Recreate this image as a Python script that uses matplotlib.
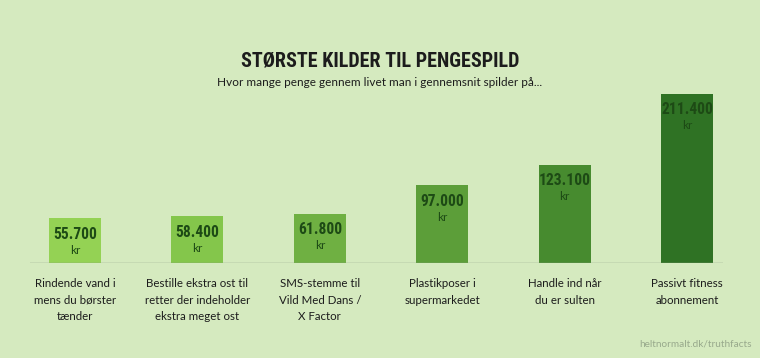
import matplotlib
matplotlib.use("Agg")
import matplotlib.pyplot as plt
from matplotlib import font_manager

# Data
categories = [
    "Rindende vand i\nmens du børster\ntænder",
    "Bestille ekstra ost til\nretter der indeholder\nekstra meget ost",
    "SMS-stemme til\nVild Med Dans /\nX Factor",
    "Plastikposer i\nsupermarkedet",
    "Handle ind når\ndu er sulten",
    "Passivt fitness\nabonnement",
]
values = [55700, 58400, 61800, 97000, 123100, 211400]
value_labels = ["55.700", "58.400", "61.800", "97.000", "123.100", "211.400"]
bar_colors = ["#94d254", "#84c64b", "#6fb042", "#5c9e39", "#478b2f", "#2f7224"]

BG = "#d5eabf"
TEXT_DARK = "#1c1c1c"
VALUE_COLOR = "#1d4a15"

installed = {f.name for f in font_manager.fontManager.ttflist}


def pick(cands):
    for c in cands:
        if c in installed:
            return c
    return "DejaVu Sans"


narrow = pick(["Roboto Condensed", "Oswald", "Archivo Narrow", "PT Sans Narrow",
               "Liberation Sans Narrow"])
body = pick(["Lato", "Open Sans"])

W, H = 760, 358
fig = plt.figure(figsize=(W / 100, H / 100), dpi=100, facecolor=BG)

# axes placed so that the baseline sits at y=263 px and the x-line spans 30..723 px
base_px = 263
unit_px = 169 / 211400
top_val = 250000
ax = fig.add_axes([30 / W, (H - base_px) / H, 693 / W, top_val * unit_px / H])
ax.set_facecolor(BG)
ax.set_xlim(-0.368, 5.294)
ax.set_ylim(0, top_val)
ax.axis("off")

x = list(range(len(values)))
ax.bar(x, values, width=0.425, color=bar_colors, zorder=2)
ax.axhline(0, color="#8c9a84", linewidth=1.0, zorder=3)

for xi, v, lab in zip(x, values, value_labels):
    ax.annotate(lab, (xi, v), xytext=(0, -11.5), textcoords="offset points",
                ha="center", va="center", fontsize=11.2, fontweight="bold",
                family=narrow, color=VALUE_COLOR, zorder=4)
    ax.annotate("kr", (xi, v), xytext=(0, -23), textcoords="offset points",
                ha="center", va="center", fontsize=8.5,
                family=body, color=VALUE_COLOR, zorder=4)

for xi, cat in zip(x, categories):
    ax.annotate(cat, (xi, 0), xytext=(0, -11), textcoords="offset points",
                ha="center", va="top", fontsize=8.3, family=body,
                color=TEXT_DARK, linespacing=1.6, annotation_clip=False)

fig.text(0.5, 1 - 61 / H, "STØRSTE KILDER TIL PENGESPILD", ha="center", va="center",
         fontsize=14.5, fontweight="bold", family=narrow, color=TEXT_DARK)
fig.text(0.5, 1 - 83 / H, "Hvor mange penge gennem livet man i gennemsnit spilder på...",
         ha="center", va="center", fontsize=8.5, family=body, color=TEXT_DARK)
fig.text(752 / W, 1 - 344 / H, "heltnormalt.dk/truthfacts", ha="right", va="center",
         fontsize=7.2, family=body, color="#98a98c")

fig.savefig("out.png", dpi=100, facecolor=BG)
